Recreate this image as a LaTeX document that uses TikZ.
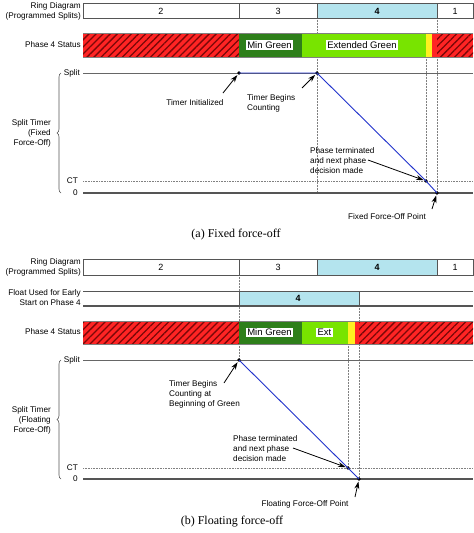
\documentclass[tikz,border=0pt]{standalone}
\usepackage{fontspec}
\setmainfont{Liberation Sans}
\newfontfamily\capfont{Liberation Serif}
\usetikzlibrary{arrows.meta,patterns.meta,decorations.pathreplacing}
\definecolor{ringblue}{HTML}{B4E4EE}
\definecolor{hatchred}{HTML}{FF2424}
\definecolor{hatchdark}{HTML}{7A0808}
\definecolor{mingreen}{HTML}{2E7F1A}
\definecolor{extgreen}{HTML}{78E400}
\definecolor{ylw}{HTML}{FFF020}
\definecolor{timerblue}{HTML}{2233CC}
\definecolor{edge}{HTML}{555555}
\tikzset{
  lbl/.style={inner sep=0pt, font=\fontsize{8.2}{10}\selectfont},
  num/.style={inner sep=0pt, font=\fontsize{9}{10}\selectfont},
  boxtxt/.style={fill=white, inner xsep=1.5pt, inner ysep=1.5pt, font=\fontsize{9.5}{11}\selectfont},
  ringbox/.style={draw=edge, line width=0.7pt},
  guide/.style={gray, densely dotted, line width=0.5pt},
  splitln/.style={draw=gray!80!black, line width=0.8pt},
  ctln/.style={draw=gray, densely dotted, line width=0.6pt},
  zeroln/.style={draw=edge, line width=1.6pt},
  timer/.style={draw=timerblue, line width=0.9pt},
  dot/.style={circle, fill=black, inner sep=0pt, minimum size=3.8pt},
  arr/.style={-{Stealth[length=7.5pt,width=5pt]}, line width=0.8pt, shorten >=0.5pt},
  hatch/.style={fill=hatchred, postaction={pattern={Lines[angle=45,distance=5pt,line width=1.3pt]}, pattern color=hatchdark}},
  brc/.style={decorate, decoration={brace, amplitude=4pt}, draw=edge, line width=0.6pt},
  captxt/.style={inner sep=0pt, font=\capfont\fontsize{12}{14}\selectfont}
}
\begin{document}
\begin{tikzpicture}[x=1pt,y=-1pt]
\useasboundingbox (0,0) rectangle (474,533);
\fill[white] (0,0) rectangle (474,533);

% ================= (a) =================
% guides
\draw[guide] (317,18) -- (317,193);
\draw[guide] (437,18) -- (437,193);
\draw[guide] (426,57) -- (426,181);
% ring diagram
\node[lbl, anchor=east, align=right] (ringA) at (81,11) {Ring Diagram\\(Programmed Splits)};
\fill[ringblue] (317,3) rectangle (437,18);
\draw[ringbox] (83,3) rectangle (473,18);
\draw[ringbox] (239,3) -- (239,18) (317,3) -- (317,18) (437,3) -- (437,18);
\node[num] (rA2) at (161,11) {2};
\node[num] (rA3) at (278,11) {3};
\node[num, font=\fontsize{9}{10}\selectfont\bfseries] (rA4) at (377,11) {4};
\node[num] (rA1) at (455,11) {1};
% status
\node[lbl, anchor=east] (statA) at (81,45) {Phase 4 Status};
\path[hatch] (83,33) rectangle (239,57);
\fill[mingreen] (239,33) rectangle (302,57);
\fill[extgreen] (302,33) rectangle (426,57);
\fill[ylw] (426,33) rectangle (432,57);
\fill[hatchred] (432,33) rectangle (437,57);
\path[hatch] (437,33) rectangle (473,57);
\draw[gray, line width=0.6pt] (83,33) -- (473,33) (83,57) -- (473,57);
\node[boxtxt] (mgA) at (269.5,45) {Min Green};
\node[boxtxt] (egA) at (362,45) {Extended Green};
% timer axes
\draw[splitln] (83,73) -- (473,73);
\draw[ctln] (83,181) -- (473,181);
\draw[zeroln] (83,193) -- (473,193);
\node[lbl, anchor=east] (sA) at (80,73) {Split};
\node[lbl, anchor=east] (ctA) at (78,181) {CT};
\node[lbl, anchor=east] (zA) at (78,193) {0};
\draw[brc] (61,193) -- (61,73);
\node[lbl, anchor=east, align=right] (stA) at (51,133) {Split Timer\\(Fixed\\Force-Off)};
% timer trace
\node[dot] (tiA) at (239,73) {};
\node[dot] (tbA) at (317,73) {};
\node[dot] (ptA) at (426,181) {};
\node[dot] (foA) at (437,193) {};
\draw[timer] (tiA.center) -- (tbA.center) -- (ptA.center) -- (foA.center);
% annotations
\node[lbl] (lTiA) at (195,103) {Timer Initialized};
\coordinate (cTiA) at (223,93);
\draw[arr] (cTiA) -- (tiA);
\node[lbl, anchor=west, align=left] (lTbA) at (247,103) {Timer Begins\\Counting};
\coordinate (cTbA) at (302,88);
\draw[arr] (cTbA) -- (tbA);
\node[lbl, anchor=west, align=left] (lPtA) at (310,161) {Phase terminated\\and next phase\\decision made};
\coordinate (cPtA) at (368,160);
\draw[arr] (cPtA) -- (ptA);
\node[lbl] (lFoA) at (387,217) {Fixed Force-Off Point};
\coordinate (cFoA) at (432,209);
\draw[arr] (cFoA) -- (foA);
\node[captxt] (capA) at (236,235) {(a) Fixed force-off};

% ================= (b) =================
\draw[guide] (239,275) -- (239,360);
\draw[guide] (359,306) -- (359,479);
\draw[guide] (348,344) -- (348,468);
% ring diagram
\node[lbl, anchor=east, align=right] (ringB) at (81,267) {Ring Diagram\\(Programmed Splits)};
\fill[ringblue] (317,259) rectangle (437,275);
\draw[ringbox] (83,259) rectangle (473,275);
\draw[ringbox] (239,259) -- (239,275) (317,259) -- (317,275) (437,259) -- (437,275);
\node[num] (rB2) at (161,267) {2};
\node[num] (rB3) at (278,267) {3};
\node[num, font=\fontsize{9}{10}\selectfont\bfseries] (rB4) at (377,267) {4};
\node[num] (rB1) at (455,267) {1};
% float row
\node[lbl, anchor=east, align=right] (flB) at (81,298) {Float Used for Early\\Start on Phase 4};
\fill[ringblue] (239,291) rectangle (359,306);
\draw[edge, line width=0.6pt] (83,291) -- (473,291);
\draw[edge, line width=1.1pt] (83,306) -- (473,306);
\draw[ringbox] (239,291) -- (239,306) (359,291) -- (359,306);
\node[num, font=\fontsize{9}{10}\selectfont\bfseries] (fB4) at (298,298.5) {4};
% status
\node[lbl, anchor=east] (statB) at (81,332) {Phase 4 Status};
\path[hatch] (83,321) rectangle (239,344);
\fill[mingreen] (239,321) rectangle (302,344);
\fill[extgreen] (302,321) rectangle (348,344);
\fill[ylw] (348,321) rectangle (355,344);
\fill[hatchred] (355,321) rectangle (359,344);
\path[hatch] (359,321) rectangle (473,344);
\draw[gray, line width=0.6pt] (83,321) -- (473,321) (83,344) -- (473,344);
\node[boxtxt] (mgB) at (269.5,332.5) {Min Green};
\node[boxtxt] (egB) at (324.5,332.5) {Ext};
% timer axes
\draw[splitln] (83,360) -- (473,360);
\draw[ctln] (83,468) -- (473,468);
\draw[zeroln] (83,479) -- (473,479);
\node[lbl, anchor=east] (sB) at (80,360) {Split};
\node[lbl, anchor=east] (ctB) at (78,468) {CT};
\node[lbl, anchor=east] (zB) at (78,479) {0};
\draw[brc] (61,479) -- (61,360);
\node[lbl, anchor=east, align=right] (stB) at (51,420) {Split Timer\\(Floating\\Force-Off)};
% timer trace
\node[dot] (tbB) at (239,360) {};
\node[dot] (ptB) at (348,468) {};
\node[dot] (foB) at (359,479) {};
\draw[timer] (tbB.center) -- (ptB.center) -- (foB.center);
% annotations
\node[lbl, anchor=west, align=left] (lTbB) at (169,394) {Timer Begins\\Counting at\\Beginning of Green};
\coordinate (cTbB) at (224,383);
\draw[arr] (cTbB) -- (tbB);
\node[lbl, anchor=west, align=left] (lPtB) at (233,449) {Phase terminated\\and next phase\\decision made};
\coordinate (cPtB) at (293,448);
\draw[arr] (cPtB) -- (ptB);
\node[lbl] (lFoB) at (305,504) {Floating Force-Off Point};
\coordinate (cFoB) at (355,497);
\draw[arr] (cFoB) -- (foB);
\node[captxt] (capB) at (232,522) {(b) Floating force-off};
\end{tikzpicture}
\end{document}
